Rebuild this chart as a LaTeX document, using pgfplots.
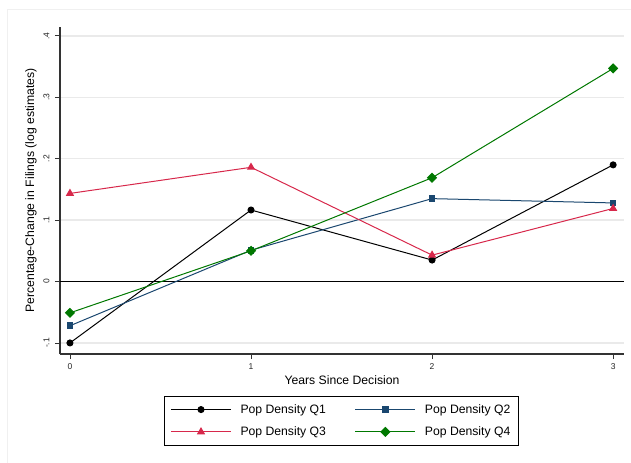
\documentclass[border=0pt]{standalone}
\usepackage{fontspec}
\setmainfont{Liberation Sans}
\usepackage{pgfplots}
\pgfplotsset{compat=1.18}

\definecolor{qone}{RGB}{0,0,0}
\definecolor{qtwo}{RGB}{26,71,111}
\definecolor{qthree}{RGB}{215,40,75}
\definecolor{qfour}{RGB}{0,120,0}
\definecolor{gridgray}{RGB}{234,234,234}
\definecolor{framegray}{RGB}{240,240,240}

\begin{document}
\begin{tikzpicture}
% page extent and the faint outer frame of the graph region
\path[use as bounding box] (-60bp,-109bp) rectangle (571bp,354bp);
\draw[framegray, line width=0.8bp] (-53bp,-112bp) -- (-53bp,345bp) -- (575bp,345bp);
\begin{axis}[
  scale only axis,
  width=564bp, height=327bp,
  xmin=-0.055, xmax=3.06,
  ymin=-0.118, ymax=0.4145,
  axis x line*=bottom, axis y line*=left,
  axis line style={line width=1.1bp, black!80},
  xtick={0,1,2,3},
  ytick={-0.1,0,0.1,0.2,0.3,0.4},
  yticklabels={-.1,0,.1,.2,.3,.4},
  /pgf/number format/assume math mode=true,
  tick align=outside,
  major tick length=5bp,
  tick style={line width=0.8bp, black!80},
  ymajorgrids,
  grid style={gridgray, line width=1.3bp},
  tick label style={font=\fontsize{8.5bp}{10bp}\selectfont, text=black!85},
  yticklabel style={rotate=90, anchor=south, yshift=2bp},
  xticklabel style={yshift=-1bp},
  xlabel={Years Since Decision},
  ylabel={Percentage-Change in Filings (log estimates)},
  label style={font=\fontsize{12.2bp}{14bp}\selectfont},
  xlabel style={at={(axis description cs:0.5,-0.0795)}, anchor=center},
  ylabel style={at={(axis description cs:-0.0514,0.5)}, anchor=center},
  legend columns=2,
  legend cell align=left,
  legend style={
    at={(axis description cs:0.499,-0.1285)}, anchor=north,
    draw=black, line width=0.8bp,
    font=\fontsize{12.2bp}{14bp}\selectfont,
    inner xsep=6bp, inner ysep=6bp,
    /tikz/every even column/.append style={column sep=27bp},
    row sep=8bp,
  },
  legend image code/.code={%
    \draw[mark repeat=2, mark phase=2] plot coordinates {(0bp,0bp) (30bp,0bp) (60bp,0bp)};},
  every axis plot/.append style={line width=1bp, mark options={solid}},
  clip=false,
]
% reference line at zero
\addplot[black, line width=0.9bp, forget plot] coordinates {(-0.055,0) (3.06,0)};

\addplot[qone, mark=*, mark size=3bp] coordinates {
  (0,-0.100) (1,0.1165) (2,0.035) (3,0.190)};
\addlegendentry{\hspace{7bp}Pop Density Q1}

\addplot[qtwo, mark=square*, mark size=2.8bp] coordinates {
  (0,-0.072) (1,0.051) (2,0.135) (3,0.128)};
\addlegendentry{\hspace{7bp}Pop Density Q2\hspace{8bp}}

\addplot[qthree, mark=triangle*, mark size=3.8bp] coordinates {
  (0,0.1435) (1,0.186) (2,0.043) (3,0.119)};
\addlegendentry{\hspace{7bp}Pop Density Q3}

\addplot[qfour, mark=square*, mark size=3.1bp, mark options={rotate=45}] coordinates {
  (0,-0.051) (1,0.050) (2,0.169) (3,0.347)};
\addlegendentry{\hspace{7bp}Pop Density Q4\hspace{8bp}}
\end{axis}
\end{tikzpicture}
\end{document}
